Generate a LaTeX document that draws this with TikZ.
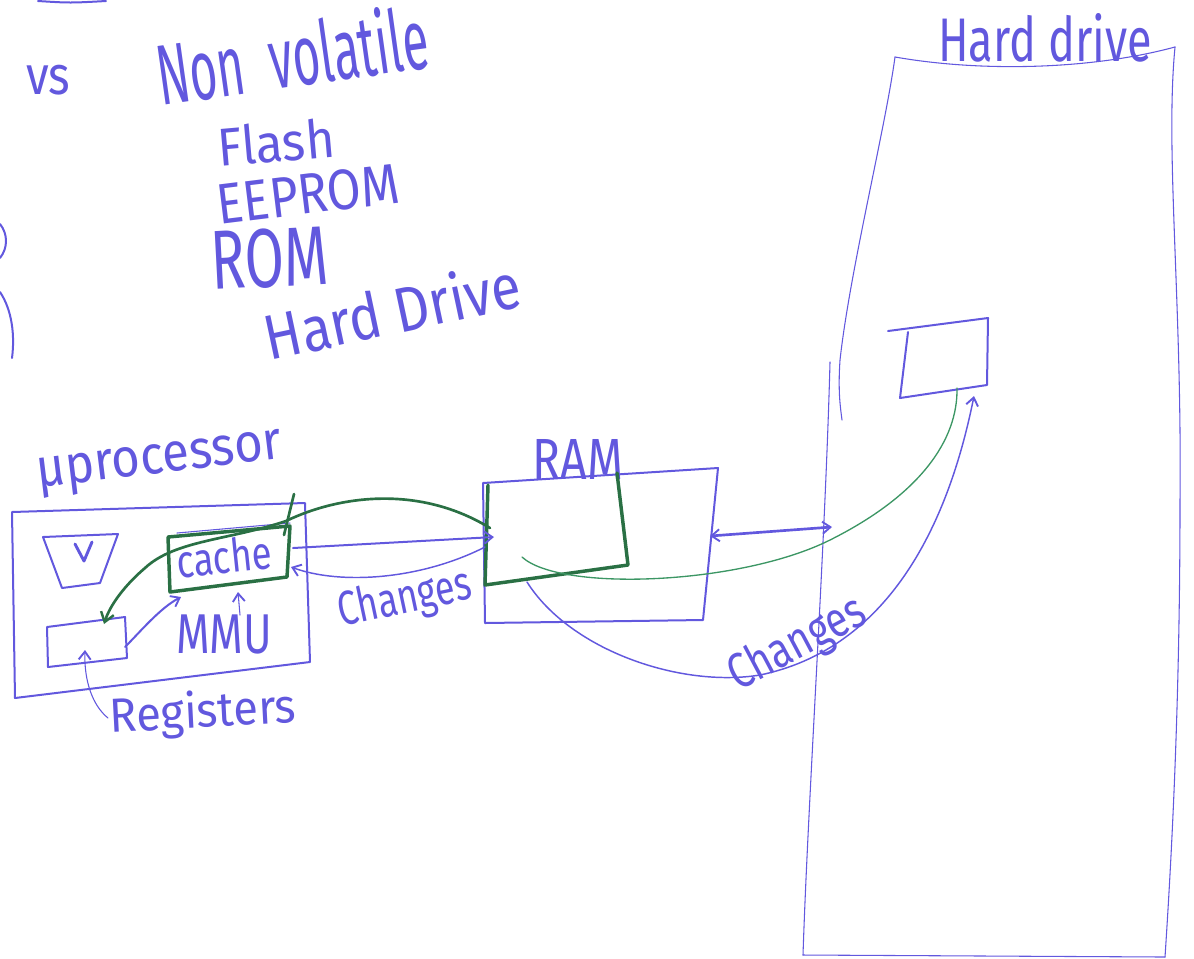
\documentclass[tikz,border=0pt]{standalone}
\usepackage{fontspec}
\setmainfont{Fira Sans}
\usepackage{graphicx}
\usetikzlibrary{arrows.meta}
\definecolor{ink}{RGB}{98,88,222}
\definecolor{gink}{RGB}{42,112,68}
\definecolor{lgink}{RGB}{60,150,100}
\newcommand{\fitwh}[3]{\resizebox{#1pt}{#2pt}{#3}}
\begin{document}
\begin{tikzpicture}[x=0.75pt,y=-0.75pt,line join=round,line cap=round,
  pen/.style={draw=ink,line width=1.5pt},
  fine/.style={draw=ink,line width=0.8pt},
  gpen/.style={draw=gink,line width=2.6pt},
  hand/.style={text=ink,inner sep=0pt},
  tip/.style={-{Straight Barb[length=6pt,width=9pt,line width=1.4pt]}},
  tips/.style={{Straight Barb[length=6pt,width=9pt,line width=1.4pt]}-{Straight Barb[length=6pt,width=9pt,line width=1.4pt]}}]
\useasboundingbox (0,0) rectangle (1194,958);

% ---------- top notes ----------
\draw[pen] (38,1) .. controls (70,3) .. (106,1);
\node[hand] (vs) at (48,80) {\fitwh{33}{22}{vs}};
\node[hand,rotate=8] (nonvol) at (292,54) {\fitwh{205}{50}{Non\ \ volatile}};
\node[hand,rotate=5] (flash) at (276,142) {\fitwh{88}{30}{Flash}};
\node[hand,rotate=7] (eeprom) at (308,194) {\fitwh{137}{30}{EEPROM}};
\node[hand,rotate=3] (rom) at (270,258) {\fitwh{88}{44}{ROM}};
\node[hand,rotate=12] (hdrv) at (392,310) {\fitwh{195}{37}{Hard Drive}};
\draw[pen] (0,224) .. controls (8,234) and (8,248) .. (0,258);
\draw[pen] (0,292) .. controls (12,310) and (15,335) .. (12,358);

% ---------- microprocessor ----------
\node[hand,rotate=7] (uproc) at (160,464) {\fitwh{185}{22}{μprocessor}};
\coordinate (pA) at (12,512);
\coordinate (pB) at (305,503);
\coordinate (pC) at (310,662);
\coordinate (pD) at (15,698);
\draw[pen] (pA) -- (pB) -- (pC) -- (pD) -- cycle;

% V unit
\draw[pen] (43,537) -- (118,534) -- (100,583) -- (62,588) -- cycle;
\draw[pen,line width=2.2pt] (75,544) -- (84,561) -- (92,542);

% registers box
\coordinate (rA) at (47,627);
\coordinate (rB) at (125,617);
\coordinate (rC) at (127,658);
\coordinate (rD) at (48,667);
\draw[pen] (rA) -- (rB) -- (rC) -- (rD) -- cycle;
\node[hand,rotate=3] (regs) at (203,714) {\fitwh{140}{28}{Registers}};
\coordinate (regtail) at (108,718);
\coordinate (reghead) at (85,650);
\draw[fine,tip] (regtail) .. controls (92,705) and (84,680) .. (reghead);

% cache
\coordinate (cA) at (168,537);
\coordinate (cB) at (290,526);
\coordinate (cC) at (287,577);
\coordinate (cD) at (170,592);
\draw[fine] (177,533) -- (290,523);
\draw[gpen] (cA) -- (cB) -- (cC) -- (cD) -- cycle;
\draw[gpen,line width=2pt] (294,494) -- (284,535);
\node[hand,rotate=6] (cache) at (224,556) {\fitwh{72}{26}{cache}};
\node[hand] (mmu) at (224,634) {\fitwh{72}{29}{MMU}};
\draw[fine,tip] (240,615) -- (238,592);

% register -> cache
\draw[pen,tip] (125,647) .. controls (140,632) and (160,608) .. (181,597);

% ---------- RAM ----------
\node[hand] (ram) at (578,459) {\fitwh{68}{30}{RAM}};
\coordinate (mA) at (483,483);
\coordinate (mB) at (718,468);
\coordinate (mC) at (703,620);
\coordinate (mD) at (485,623);
\draw[pen] (mA) -- (mB) -- (mC) -- (mD) -- cycle;
\draw[gpen] (488,485) -- (485,585) -- (628,565) -- (617,473);

% green: RAM -> cache -> registers
\coordinate (gstart) at (490,528);
\coordinate (gend) at (104,624);
\draw[gpen,line width=2pt,-{Straight Barb[length=7pt,width=10pt,line width=1.8pt]}]
  (gstart) .. controls (420,485) and (340,495) .. (286,521)
  .. controls (230,540) and (175,540) .. (145,568)
  .. controls (125,585) and (110,605) .. (gend);

% cache <-> RAM (blue)
\coordinate (cR) at (293,548);
\coordinate (mL) at (494,537);
\draw[pen,tip] (cR) -- (mL);
\draw[fine,line width=1.1pt,tip] (485,547) .. controls (420,580) and (340,585) .. (291,567);
\node[hand,rotate=12] (chg1) at (405,600) {\fitwh{102}{27}{Changes}};

% ---------- Hard drive ----------
\node[hand] (hdlabel) at (1045,38) {\fitwh{160}{36}{Hard drive}};
\coordinate (hTL) at (895,57);
\coordinate (hTR) at (1175,47);
\coordinate (hBL) at (803,955);
\coordinate (hBR) at (1165,957);
\draw[fine] (hTL) .. controls (980,72) and (1090,70) .. (hTR);
\draw[fine] (hTL) .. controls (885,130) and (850,270) .. (840,360) .. controls (838,390) and (840,405) .. (842,420);
\draw[fine] (830,362) .. controls (825,550) and (808,800) .. (hBL);
\draw[fine] (hBL) -- (hBR);
\draw[fine] (hTR) .. controls (1165,150) and (1182,300) .. (1180,500) .. controls (1180,700) and (1172,850) .. (hBR);

% block in hard drive
\coordinate (bA) at (908,332);
\coordinate (bB) at (988,318);
\coordinate (bC) at (987,385);
\coordinate (bD) at (900,398);
\draw[pen] (888,331) -- (bB) -- (bC) -- (bD) -- (bA);

% RAM <-> hard drive
\coordinate (mR) at (710,536);
\coordinate (hL) at (832,527);
\draw[pen,line width=2pt,tips] (mR) -- (hL);

% green thin: RAM -> block
\draw[draw=lgink,line width=1pt] (522,557) .. controls (560,592) and (740,585) .. (830,540)
  .. controls (920,495) and (958,440) .. (957,388);

% blue changes: RAM -> block
\draw[fine,line width=1.1pt,tip] (527,582) .. controls (570,650) and (680,688) .. (760,675)
  .. controls (880,650) and (945,540) .. (974,396);
\node[hand,rotate=28] (chg2) at (798,645) {\fitwh{112}{28}{Changes}};
\end{tikzpicture}
\end{document}
